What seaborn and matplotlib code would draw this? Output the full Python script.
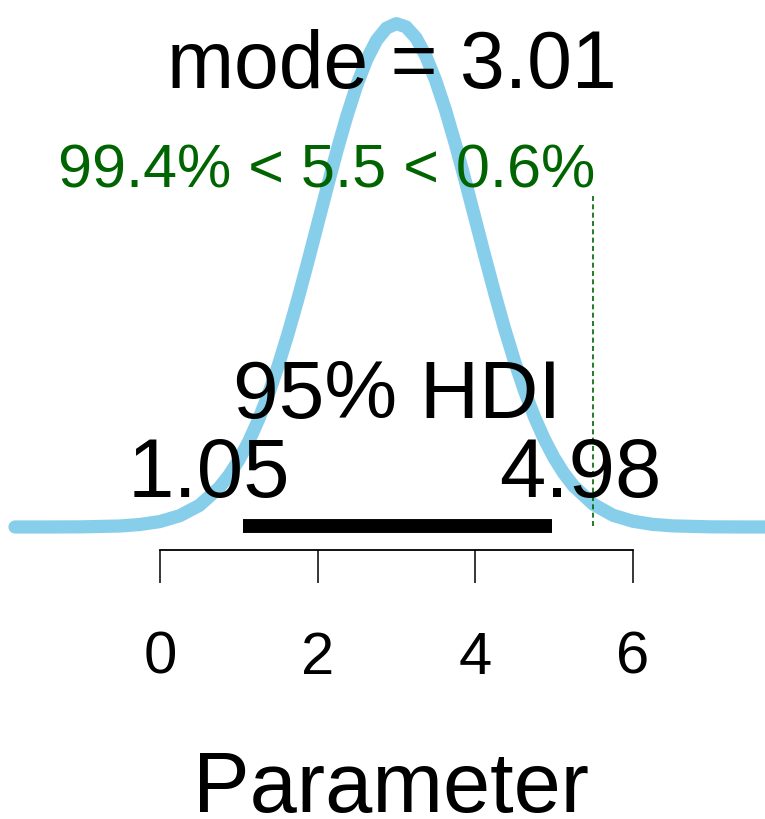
import matplotlib
matplotlib.use("Agg")
import matplotlib.pyplot as plt
import seaborn as sns
import pandas as pd

# posterior density
param = [-1.84, -1.5, -1.0, -0.5, -0.25, 0.0, 0.25, 0.5, 0.75, 0.875, 1.0,
         1.125, 1.25, 1.375, 1.5, 1.625, 1.75, 1.875, 2.0, 2.125, 2.25,
         2.375, 2.5, 2.625, 2.75, 2.875, 3.0, 3.125, 3.25, 3.375, 3.5,
         3.625, 3.75, 3.875, 4.0, 4.125, 4.25, 4.375, 4.5, 4.625, 4.75,
         4.875, 5.0, 5.125, 5.25, 5.5, 5.75, 6.0, 6.25, 6.5, 7.0, 7.5, 7.8]
density = [0.0, 0.0, 0.0001, 0.0008, 0.0020, 0.0043, 0.0089, 0.0171, 0.0310,
           0.0408, 0.0529, 0.0675, 0.0848, 0.1048, 0.1276, 0.1529, 0.1804,
           0.2095, 0.2396, 0.2697, 0.2989, 0.3261, 0.3503, 0.3705, 0.3857,
           0.3953, 0.3989, 0.3963, 0.3876, 0.3732, 0.3538, 0.3302, 0.3034,
           0.2744, 0.2444, 0.2143, 0.1850, 0.1571, 0.1315, 0.1083, 0.0878,
           0.0701, 0.0551, 0.0426, 0.0325, 0.0180, 0.0093, 0.0046, 0.0021,
           0.0009, 0.0001, 0.0, 0.0]

mode_val = 3.01
hdi = [1.05, 4.98]
comp_val = 5.5
pct_below = 99.4
pct_above = 0.6
xticks = [0, 2, 4, 6]

sns.set_style("white")
plt.rcParams['font.family'] = ['Liberation Sans', 'DejaVu Sans']

df = pd.DataFrame({'param': param, 'density': density})

fig = plt.figure(figsize=(7.65, 8.19), dpi=100)
ax = fig.add_axes([0, 0, 1, 1])

sns.lineplot(data=df, x='param', y='density', color='skyblue', linewidth=9.5,
             solid_capstyle='round', ax=ax)

# HDI bar
ax.plot(hdi, [0.0008, 0.0008], color='black', linewidth=10, solid_capstyle='butt')

# comparison value line
cv_ht = 0.7 * max(density)
ax.plot([comp_val, comp_val], [0.94 * cv_ht, 0], color='darkgreen',
        linestyle=(0, (3, 2)), linewidth=1.2)

ax.text(2.94, 0.348, f"mode = {mode_val}", fontsize=58, ha='center',
        va='baseline', color='black')
ax.text(comp_val + 0.02, 0.269, f"{pct_below}% < {comp_val} < {pct_above}%",
        fontsize=44, ha='right', va='baseline', color='darkgreen')
ax.text(sum(hdi) / 2, 0.0864, "95% HDI", fontsize=59, ha='center',
        va='baseline', color='black')
ax.text(0.62, 0.0238, f"{hdi[0]}", fontsize=60, ha='center', va='baseline',
        color='black')
ax.text(5.33, 0.0238, f"{hdi[1]}", fontsize=60, ha='center', va='baseline',
        color='black')

ax.set_xlim(-2.03, 7.68)
ax.set_ylim(-0.2314, 0.4176)

for s in ['top', 'right', 'left']:
    ax.spines[s].set_visible(False)
ax.spines['bottom'].set_position(('data', -0.0182))
ax.spines['bottom'].set_bounds(0, 6)
ax.spines['bottom'].set_linewidth(1.3)
ax.spines['bottom'].set_color('black')

ax.set_yticks([])
ax.set_ylabel('')
ax.set_xticks(xticks)
ax.set_xticklabels([str(t) for t in xticks])
ax.tick_params(axis='x', direction='out', length=24, width=1.1, pad=34,
               labelsize=43, colors='black', labelcolor='black', bottom=True)

ax.set_xlabel("Parameter", fontsize=61, color='black')
ax.xaxis.set_label_coords(0.511, 0.008)
ax.xaxis.label.set_va('baseline')

fig.savefig("out.png", dpi=100)
